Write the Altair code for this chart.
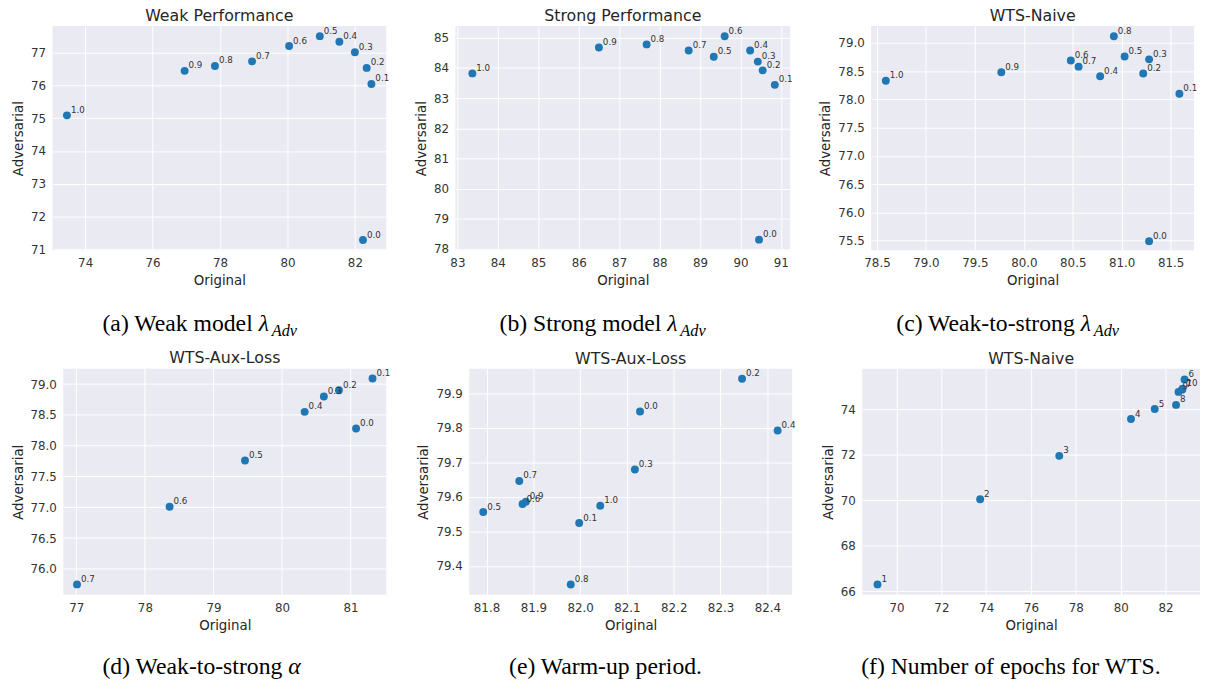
import altair as alt
import pandas as pd

# ---------------- data ----------------
lam_labels = ["0.0", "0.1", "0.2", "0.3", "0.4", "0.5", "0.6", "0.7", "0.8", "0.9", "1.0"]

a_original = [82.24, 82.49, 82.35, 82.00, 81.54, 80.96, 80.05, 78.95, 77.85, 76.95, 73.46]
a_adversarial = [71.28, 76.05, 76.54, 77.02, 77.34, 77.51, 77.21, 76.74, 76.60, 76.45, 75.09]

b_original = [90.46, 90.85, 90.55, 90.43, 90.24, 89.34, 89.61, 88.72, 87.68, 86.50, 83.37]
b_adversarial = [78.31, 83.44, 83.92, 84.21, 84.58, 84.37, 85.05, 84.58, 84.78, 84.68, 83.82]

c_original = [81.28, 81.59, 81.22, 81.28, 80.78, 81.03, 80.48, 80.56, 80.92, 79.77, 78.59]
c_adversarial = [75.49, 78.10, 78.46, 78.71, 78.41, 78.76, 78.69, 78.58, 79.12, 78.48, 78.33]

d_labels = ["0.0", "0.1", "0.2", "0.3", "0.4", "0.5", "0.6", "0.7"]
d_original = [81.08, 81.32, 80.83, 80.61, 80.33, 79.46, 78.36, 77.01]
d_adversarial = [78.28, 79.09, 78.90, 78.80, 78.55, 77.76, 77.01, 75.75]

e_original = [82.128, 81.998, 82.346, 82.117, 82.422, 81.793, 81.877, 81.870, 81.980, 81.884, 82.043]
e_adversarial = [79.847, 79.524, 79.942, 79.679, 79.792, 79.556, 79.579, 79.646, 79.346, 79.586, 79.574]

f_labels = ["1", "2", "3", "4", "5", "6", "7", "8", "9", "10"]
f_original = [69.15, 73.73, 77.26, 80.46, 81.52, 82.85, 82.74, 82.47, 82.58, 82.76]
f_adversarial = [66.30, 70.04, 71.95, 73.57, 74.01, 75.31, 74.86, 74.19, 74.76, 74.90]

# axis domains and tick values
a_xdom, a_ydom = [73.03, 82.93], [70.97, 77.82]
b_xdom, b_ydom = [82.95, 91.23], [77.96, 85.39]
c_xdom, c_ydom = [78.44, 81.74], [75.33, 79.30]
d_xdom, d_ydom = [76.81, 81.52], [75.58, 79.25]
e_xdom, e_ydom = [81.763, 82.453], [79.316, 79.971]
f_xdom, f_ydom = [68.47, 83.54], [65.84, 75.78]

a_xticks, a_yticks = [74, 76, 78, 80, 82], [71, 72, 73, 74, 75, 76, 77]
b_xticks, b_yticks = [83, 84, 85, 86, 87, 88, 89, 90, 91], [78, 79, 80, 81, 82, 83, 84, 85]
c_xticks = [78.5, 79.0, 79.5, 80.0, 80.5, 81.0, 81.5]
c_yticks = [75.5, 76.0, 76.5, 77.0, 77.5, 78.0, 78.5, 79.0]
d_xticks, d_yticks = [77, 78, 79, 80, 81], [76.0, 76.5, 77.0, 77.5, 78.0, 78.5, 79.0]
e_xticks = [81.8, 81.9, 82.0, 82.1, 82.2, 82.3, 82.4]
e_yticks = [79.4, 79.5, 79.6, 79.7, 79.8, 79.9]
f_xticks, f_yticks = [70, 72, 74, 76, 78, 80, 82], [66, 68, 70, 72, 74]

titles = ["Weak Performance", "Strong Performance", "WTS-Naive",
          "WTS-Aux-Loss", "WTS-Aux-Loss", "WTS-Naive"]

BG = "#EAEAF2"
CAP_Y = 309
CAP_SIZE = 24
SUB_SIZE = 16.5


def one_row():
    return alt.Chart(pd.DataFrame({"k": [0]}))


def cap_part(text, x, align, italic=False, size=CAP_SIZE, dy=0):
    return alt.Chart(pd.DataFrame({"t": [text]})).mark_text(
        font="Liberation Serif", fontSize=size, align=align, baseline="alphabetic",
        fontStyle="italic" if italic else "normal", color="black", dy=dy
    ).encode(x=alt.value(x), y=alt.value(CAP_Y), text="t:N")


def extent_guide(left, right):
    # invisible rule that fixes how far each panel reaches left and right
    return one_row().mark_rule(color=BG, opacity=0.001, strokeWidth=0.5).encode(
        x=alt.value(left), x2=alt.value(right), y=alt.value(0))


def panel(labels, xs, ys, xdom, ydom, xticks, yticks, xfmt, yfmt, title, w, h,
          caps, left_reach, shift=0):
    """shift > 0: the view starts `shift` px left of the grey plot area."""
    df = pd.DataFrame({"lbl": labels, "Original": xs, "Adversarial": ys})
    base = alt.Chart(df)
    full_w = w + shift
    xd = list(xdom)
    if shift:
        xd[0] = xdom[0] - shift * (xdom[1] - xdom[0]) / w
    xscale = alt.Scale(domain=xd, nice=False, zero=False)
    yscale = alt.Scale(domain=ydom, nice=False, zero=False)
    xaxis = dict(values=xticks, tickCount=len(xticks), format=xfmt, title="Original")
    yaxis = dict(values=yticks, tickCount=len(yticks), format=yfmt, title="Adversarial")
    layers = []
    if shift:
        xaxis.update(grid=False, titleX=shift + w / 2)
        yaxis.update(grid=False, labelPadding=7 - shift)
        layers.append(one_row().mark_rect(color=BG).encode(
            x=alt.value(shift), x2=alt.value(full_w), y=alt.value(0), y2=alt.value(h)))
        layers.append(alt.Chart(pd.DataFrame({"Adversarial": yticks})).mark_rule(
            color="white", strokeWidth=1).encode(
            y=alt.Y("Adversarial:Q", scale=yscale), x=alt.value(shift), x2=alt.value(full_w)))
        layers.append(alt.Chart(pd.DataFrame({"Original": xticks})).mark_rule(
            color="white", strokeWidth=1).encode(
            x=alt.X("Original:Q", scale=xscale), y=alt.value(0), y2=alt.value(h)))
    x = alt.X("Original:Q", scale=xscale, axis=alt.Axis(**xaxis))
    y = alt.Y("Adversarial:Q", scale=yscale, axis=alt.Axis(**yaxis))
    pts = base.mark_circle(size=64, color="#1f77b4", opacity=1).encode(x=x, y=y)
    txt = base.mark_text(align="left", baseline="alphabetic", dx=4, dy=-2.5,
                         fontSize=8.8, font="DejaVu Sans", color="#333333").encode(
        x="Original:Q", y="Adversarial:Q", text="lbl:N")
    layers = [extent_guide(-left_reach, full_w + 1)] + layers + [pts, txt] + caps
    props = dict(width=full_w, height=h, title=alt.Title(title, dx=shift / 2))
    if shift:
        props["view"] = alt.ViewBackground(fill="white", stroke=None)
    return alt.layer(*layers).properties(**props)


pa = panel(lam_labels, a_original, a_adversarial, a_xdom, a_ydom, a_xticks, a_yticks,
           "d", "d", titles[0], 338, 227,
           [cap_part("(a) Weak model", 202.8, "right"),
            cap_part("λ", 208.8, "left", italic=True),
            cap_part("Adv", 222, "left", italic=True, size=SUB_SIZE, dy=5)], 57)
pb = panel(lam_labels, b_original, b_adversarial, b_xdom, b_ydom, b_xticks, b_yticks,
           "d", "d", titles[1], 339, 227,
           [cap_part("(b) Strong model", 208.6, "right"),
            cap_part("λ", 214.6, "left", italic=True),
            cap_part("Adv", 227.8, "left", italic=True, size=SUB_SIZE, dy=5)], 56)
pc = panel(lam_labels, c_original, c_adversarial, c_xdom, c_ydom, c_xticks, c_yticks,
           ".1f", ".1f", titles[2], 327, 227,
           [cap_part("(c) Weak-to-strong", 206.2, "right"),
            cap_part("λ", 212.2, "left", italic=True),
            cap_part("Adv", 225.4, "left", italic=True, size=SUB_SIZE, dy=5)], 68)
pd_ = panel(d_labels, d_original, d_adversarial, d_xdom, d_ydom, d_xticks, d_yticks,
            "d", ".1f", titles[3], 327, 229,
            [cap_part("(d) Weak-to-strong", 232.8, "right"),
             cap_part("α", 238.8, "left", italic=True)], 57, shift=11)
pe = panel(lam_labels, e_original, e_adversarial, e_xdom, e_ydom, e_xticks, e_yticks,
           ".1f", ".1f", titles[4], 327, 229,
           [cap_part("(e) Warm-up period.", 138, "center")], 68)
pf = panel(f_labels, f_original, f_adversarial, f_xdom, f_ydom, f_xticks, f_yticks,
           "d", "d", titles[5], 342, 229,
           [cap_part("(f) Number of epochs for WTS.", 150.5, "center")], 56)

row1 = alt.hconcat(pa, pb, pc, spacing=10)
row2 = alt.hconcat(pd_, pe, pf, spacing=10)

chart = alt.vconcat(row1, row2, spacing=10).properties(
    padding={"left": -13, "top": -5, "right": 0, "bottom": 0},
    background="white",
).configure_view(
    stroke=None, fill=BG
).configure_axis(
    grid=True, gridColor="white", gridWidth=1, domain=False, ticks=False, tickSize=0,
    labelFont="DejaVu Sans", labelFontSize=12, labelColor="#333333", labelFlush=False,
    labelOverlap=False,
    titleFont="DejaVu Sans", titleFontSize=13.5, titleFontWeight="normal",
    titleColor="#262626",
).configure_axisY(
    labelPadding=7, titlePadding=5, minExtent=0
).configure_axisX(
    labelPadding=8, titlePadding=5
).configure_title(
    font="DejaVu Sans", fontSize=16, fontWeight="normal", color="#262626", offset=2
)

chart.save("out.html", embed_options={"renderer": "svg", "actions": False})
